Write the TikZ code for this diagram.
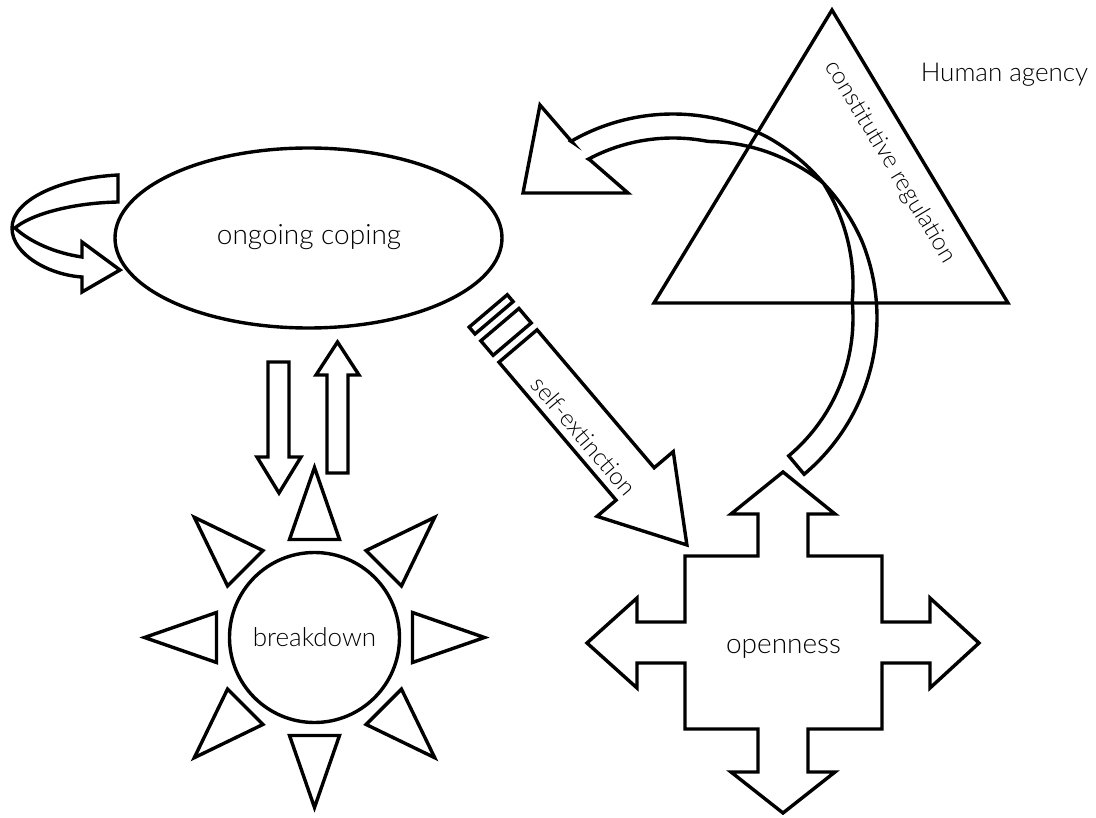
\documentclass[tikz,border=0pt]{standalone}
\usepackage{fontspec}
\setmainfont{Lato}[UprightFont=* Light]
\usetikzlibrary{shapes.geometric}
\begin{document}
\begin{tikzpicture}[x=1pt,y=-1pt,
  shp/.style={draw=black, line width=3.4pt, line join=miter, miter limit=10},
  lbl/.style={inner sep=0pt, text=black}]
\useasboundingbox (0,0) rectangle (1096,818);

% ongoing coping
\node[shp, ellipse, minimum width=387pt, minimum height=180pt, inner sep=0pt] (coping) at (308.5,238) {};
\node[lbl, anchor=base, font=\fontsize{28}{30}\selectfont] (copingtxt) at (309,245) {ongoing coping};

% self loop on ongoing coping
\draw[shp] (118,175) -- (118,202) .. controls (70,203) and (30,215) .. (15,228)
  .. controls (30,242) and (55,253) .. (82,257) -- (82,242) -- (120,270) -- (82,292) -- (82,277)
  .. controls (50,275) and (12,255) .. (12,228) .. controls (12,200) and (60,178) .. (118,175) -- cycle;

% arrows between coping and breakdown
\draw[shp] (268,362) -- (289,362) -- (289,457) -- (301,457) -- (279,493) -- (257,457) -- (268,457) -- cycle;
\draw[shp] (327,473) -- (348,473) -- (348,375) -- (359,375) -- (337.5,342) -- (316,375) -- (327,375) -- cycle;

% breakdown sun
\node[shp, circle, minimum size=170pt, inner sep=0pt] (breakdown) at (314.5,637.5) {};
\node[lbl, anchor=base, font=\fontsize{26}{28}\selectfont] (breakdowntxt) at (314.5,646) {breakdown};
\foreach \a in {0,45,...,315}{
  \begin{scope}[shift={(314.5,637.5)}, rotate=\a]
    \draw[shp] (98,-25) -- (170,0) -- (98,25) -- cycle;
  \end{scope}}

% self-extinction arrow
\begin{scope}[shift={(518,346)}, rotate=-49.67]
  \draw[shp] (0,-25) -- (181,-25) -- (181,-50) -- (261,0) -- (181,50) -- (181,25) -- (0,25) -- cycle;
  \draw[shp] (-28,-25) rectangle (-9,25);
  \draw[shp] (-46,-25) rectangle (-37,25);
\end{scope}
\node[lbl, rotate=-49.67, font=\fontsize{24}{26}\selectfont] (selfext) at (584,436) {self-extinction};

% openness cross
\draw[shp] (783,472) -- (835,514) -- (808,514) -- (808,556) -- (882,556) -- (882,622) -- (930,622) -- (930,598)
  -- (979,643) -- (930,688) -- (930,663) -- (882,663) -- (882,729) -- (808,729) -- (808,772) -- (835,772)
  -- (783,813) -- (731,772) -- (758,772) -- (758,729) -- (685,729) -- (685,663) -- (637,663) -- (637,688)
  -- (587,643) -- (637,598) -- (637,622) -- (685,622) -- (685,556) -- (758,556) -- (758,514) -- (731,514) -- cycle;
\node[lbl, anchor=base, font=\fontsize{28}{30}\selectfont] (openness) at (783.5,653) {openness};

% human agency triangle
\draw[shp] (832,10) -- (1008,303) -- (654,303) -- cycle;
\node[lbl, rotate=-59, font=\fontsize{24}{26}\selectfont] (constreg) at (890,162) {constitutive regulation};
\node[lbl, anchor=base, font=\fontsize{26}{28}\selectfont] (agency) at (1004.5,82) {Human agency};

% curved (twisted) arrow from openness back to ongoing coping
\draw[shp] (572,142) -- (540,105) -- (523,193) -- (628,193) -- (590,160)
  -- plot[domain=118:-50, samples=140, variable=\t]
     ({673+max(180,202-0.6*abs(\t-42))*cos(\t)}, {318-max(180,202-0.6*abs(\t-42))*sin(\t)})
  -- plot[domain=-50:120, samples=140, variable=\t]
     ({673+(204-2*max(0,1-abs(\t-42)/20))*cos(\t)}, {318-(204-2*max(0,1-abs(\t-42)/20))*sin(\t)})
  -- cycle;
\end{tikzpicture}
\end{document}
